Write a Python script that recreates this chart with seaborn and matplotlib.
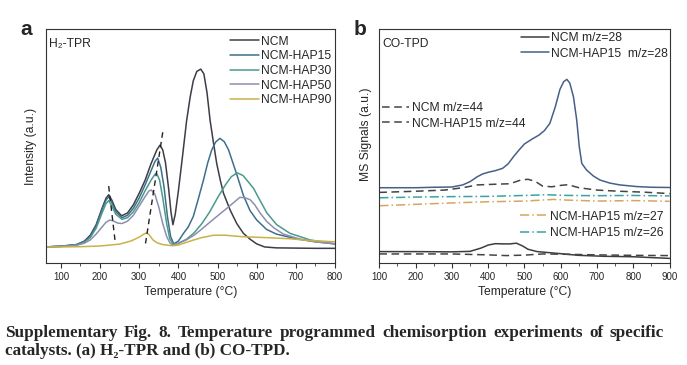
import matplotlib
matplotlib.use("Agg")
import matplotlib.pyplot as plt
import seaborn as sns
from matplotlib.ticker import MultipleLocator

# ---- panel a: H2-TPR (intensity as % of axis height) ----
ncm_t = [60, 100, 140, 160, 175, 190, 205, 215, 222, 230, 240, 255, 270, 285, 300, 315, 330, 345, 353, 360,
         367, 375, 381, 386, 392, 400, 410, 421, 430, 438, 447, 457, 465, 473, 481, 490, 498, 507, 515, 532,
         549, 566, 583, 600, 620, 650, 700, 750, 800]
ncm_i = [7.0, 7.3, 8.0, 9.5, 12.0, 16.5, 23.5, 27.8, 29.3, 27.0, 23.0, 20.3, 21.5, 25.0, 30.0, 35.5, 42.5, 48.5, 50.5, 48.5,
         43.0, 32.0, 22.0, 16.5, 21.0, 31.0, 45.0, 61.0, 71.0, 78.0, 82.0, 83.0, 81.0, 73.0, 61.0, 51.0, 42.5, 35.5, 30.0, 22.8,
         17.0, 12.8, 10.3, 8.3, 7.0, 6.6, 6.5, 6.4, 6.4]

hap15_t = [60, 100, 140, 160, 175, 190, 205, 215, 222, 230, 240, 256, 270, 285, 300, 315, 330, 340, 347, 355,
           363, 372, 380, 388, 400, 413, 425, 438, 450, 464, 475, 485, 495, 506, 517, 528, 549, 566, 583, 600,
           625, 650, 700, 750, 800]
hap15_i = [7.0, 7.3, 8.0, 9.3, 11.5, 16.0, 23.0, 27.0, 28.5, 26.0, 22.0, 19.5, 20.5, 23.5, 28.0, 33.5, 39.5, 43.5, 45.0, 41.0,
           33.0, 20.0, 11.5, 8.3, 9.5, 12.8, 15.5, 20.0, 27.0, 35.6, 43.0, 48.4, 51.8, 53.4, 52.0, 48.5, 38.0, 29.0, 22.5, 18.5,
           14.5, 12.5, 10.5, 9.2, 8.3]

hap30_t = [60, 100, 140, 160, 175, 190, 205, 215, 222, 230, 240, 256, 270, 285, 300, 315, 330, 340, 345, 352,
           360, 370, 378, 387, 400, 420, 440, 460, 480, 500, 520, 535, 550, 565, 580, 592, 608, 626, 651, 685,
           736, 800]
hap30_i = [7.0, 7.2, 7.8, 9.0, 11.0, 15.0, 21.5, 25.5, 26.8, 24.5, 21.0, 18.8, 19.5, 22.0, 26.0, 31.0, 35.5, 38.0, 38.3, 35.5,
           28.0, 17.0, 10.5, 8.0, 8.6, 10.2, 13.0, 17.0, 22.0, 28.0, 33.5, 37.0, 38.7, 37.5, 34.5, 32.0, 27.0, 21.5, 16.5, 12.8,
           10.0, 8.3]

hap50_t = [60, 100, 140, 160, 175, 190, 205, 215, 225, 235, 245, 256, 270, 285, 300, 315, 325, 331, 340, 350,
           360, 370, 378, 385, 400, 420, 440, 455, 475, 498, 520, 540, 557, 570, 583, 595, 609, 626, 645, 668,
           711, 750, 800]
hap50_i = [7.0, 7.2, 7.7, 8.6, 10.0, 12.5, 15.5, 17.5, 18.5, 18.0, 17.2, 17.0, 18.0, 20.5, 24.5, 28.5, 31.0, 31.3, 29.5, 24.0,
           17.0, 11.5, 8.8, 7.8, 8.5, 10.0, 12.0, 14.0, 16.8, 20.0, 23.0, 25.8, 28.2, 28.0, 27.2, 25.0, 21.4, 17.8, 15.0, 12.5,
           10.3, 9.2, 8.3]

hap90_t = [60, 100, 150, 200, 250, 280, 300, 310, 318, 325, 335, 345, 360, 385, 400, 430, 460, 490, 520, 560,
           620, 685, 730, 800]
hap90_i = [7.0, 7.0, 7.1, 7.4, 8.2, 9.6, 11.2, 12.3, 13.0, 12.3, 10.0, 8.8, 8.0, 7.5, 7.8, 9.5, 11.0, 12.0, 12.0, 11.4,
           11.0, 10.5, 9.8, 9.2]

# dashed guides through the low-temperature peaks
guide1_t = [222, 238]
guide1_i = [33.0, 10.0]
guide2_t = [360, 315]
guide2_i = [56.0, 7.4]

# ---- panel b: CO-TPD (signal as % of axis height) ----
hap28_t = [100, 150, 200, 250, 300, 330, 350, 370, 385, 400, 420, 440, 455, 470, 485, 500, 520, 540, 555, 570,
           585, 598, 608, 617, 625, 635, 644, 651, 658, 671, 690, 708, 735, 763, 809, 850, 900]
hap28_s = [32.3, 32.3, 32.3, 32.5, 32.6, 33.5, 34.9, 37.0, 38.2, 38.9, 39.6, 40.6, 42.5, 45.6, 48.4, 51.0, 53.0, 54.8, 56.7, 59.8,
           66.9, 74.4, 77.6, 78.6, 77.0, 71.2, 61.3, 50.0, 42.7, 39.9, 37.3, 35.6, 34.3, 33.5, 32.8, 32.5, 32.4]

ncm28_t = [100, 200, 300, 350, 380, 400, 420, 440, 460, 478, 495, 510, 535, 580, 650, 720, 800, 900]
ncm28_s = [5.0, 5.0, 4.9, 5.1, 6.5, 7.8, 8.4, 8.3, 8.3, 8.6, 7.4, 6.0, 5.0, 4.4, 3.4, 3.0, 2.8, 2.1]

ncm44_t = [100, 300, 400, 450, 500, 550, 600, 700, 800, 900]
ncm44_s = [4.0, 4.0, 3.6, 3.3, 3.5, 4.0, 3.9, 3.6, 3.4, 3.3]

hap44_t = [100, 200, 280, 330, 370, 420, 460, 490, 510, 530, 550, 575, 600, 620, 650, 700, 760, 830, 900]
hap44_s = [30.3, 30.8, 31.3, 32.3, 33.5, 33.8, 34.0, 35.6, 35.9, 35.0, 33.0, 32.7, 33.3, 33.6, 32.3, 31.3, 30.8, 30.4, 29.8]

hap27_t = [100, 200, 300, 400, 500, 580, 620, 700, 800, 900]
hap27_s = [24.6, 25.2, 25.8, 26.3, 26.6, 27.3, 27.0, 26.6, 26.8, 26.5]

hap26_t = [100, 200, 300, 400, 500, 560, 620, 700, 800, 900]
hap26_s = [28.0, 28.3, 28.5, 28.6, 29.0, 29.3, 29.0, 28.9, 29.0, 28.8]

caption1 = "Supplementary Fig. 8. Temperature programmed chemisorption experiments of specific"
caption2 = "catalysts. (a) H\u2082-TPR and (b) CO-TPD."

sns.set_style("white")
plt.rcParams["font.family"] = ["Liberation Sans", "DejaVu Sans"]

FS = 8.7
fig = plt.figure(figsize=(6.87, 3.65), dpi=100)
ax_a = fig.add_axes([0.0670, 0.2786, 0.4207, 0.6411])
ax_b = fig.add_axes([0.5521, 0.2786, 0.4231, 0.6411])


def line(ax, t, v, color, ls="-", lw=1.1, label=None):
    sns.lineplot(x=t, y=v, ax=ax, color=color, linestyle=ls, linewidth=lw,
                 sort=False, estimator=None)
    ln = ax.lines[-1]
    if label:
        ln.set_label(label)
    return ln


# panel a
a_series = [
    (ncm_t, ncm_i, "#3d3d47", "NCM"),
    (hap15_t, hap15_i, "#3f6f8c", "NCM-HAP15"),
    (hap30_t, hap30_i, "#4b9a8e", "NCM-HAP30"),
    (hap50_t, hap50_i, "#8d8fb0", "NCM-HAP50"),
    (hap90_t, hap90_i, "#c9b24a", "NCM-HAP90"),
]
a_handles = [line(ax_a, t, v, c, label=lab) for t, v, c, lab in a_series]
line(ax_a, guide1_t, guide1_i, "#222222", ls=(0, (4, 3)), lw=1.0)
line(ax_a, guide2_t, guide2_i, "#222222", ls=(0, (4, 3)), lw=1.0)

ax_a.set_xlim(62, 800)
ax_a.set_ylim(0, 100)
ax_a.set_ylabel("Intensity (a.u.)", fontsize=FS)
ax_a.yaxis.set_label_coords(-0.031, 0.5)
ax_a.text(0.01, 0.924, "H\u2082-TPR", transform=ax_a.transAxes, fontsize=FS, va="baseline")
ax_a.legend(handles=a_handles, loc="center right", bbox_to_anchor=(0.986, 0.822),
            frameon=False, fontsize=FS, handlelength=2.4, handletextpad=0.15,
            labelspacing=0.22, borderpad=0, borderaxespad=0)

# panel b
h_ncm28 = line(ax_b, ncm28_t, ncm28_s, "#3d3d3d", label="NCM m/z=28")
h_hap28 = line(ax_b, hap28_t, hap28_s, "#485f88", label="NCM-HAP15  m/z=28")
h_ncm44 = line(ax_b, ncm44_t, ncm44_s, "#444444", ls=(0, (5, 3)), label="NCM m/z=44")
h_hap44 = line(ax_b, hap44_t, hap44_s, "#444444", ls=(0, (5, 3)), label="NCM-HAP15 m/z=44")
h_hap27 = line(ax_b, hap27_t, hap27_s, "#d6a562", ls=(0, (6, 2, 1, 2)), label="NCM-HAP15 m/z=27")
h_hap26 = line(ax_b, hap26_t, hap26_s, "#3aa3a0", ls=(0, (6, 2, 1, 2)), label="NCM-HAP15 m/z=26")

ax_b.set_xlim(100, 901)
ax_b.set_ylim(0, 100)
ax_b.set_ylabel("MS Signals (a.u.)", fontsize=FS)
ax_b.yaxis.set_label_coords(-0.026, 0.55)
ax_b.text(0.012, 0.924, "CO-TPD", transform=ax_b.transAxes, fontsize=FS, va="baseline")

leg_kw = dict(frameon=False, fontsize=FS, handlelength=2.3, handletextpad=0.2,
              borderpad=0, borderaxespad=0)
leg1 = ax_b.legend(handles=[h_ncm28, h_hap28], loc="center right",
                   bbox_to_anchor=(0.993, 0.929), labelspacing=0.28, **leg_kw)
ax_b.add_artist(leg1)
leg2 = ax_b.legend(handles=[h_ncm44, h_hap44], loc="center left",
                   bbox_to_anchor=(0.008, 0.630), labelspacing=0.28, **leg_kw)
ax_b.add_artist(leg2)
ax_b.legend(handles=[h_hap27, h_hap26], loc="center right",
            bbox_to_anchor=(0.977, 0.164), labelspacing=0.4, **leg_kw)

for ax in (ax_a, ax_b):
    ax.xaxis.set_major_locator(MultipleLocator(100))
    ax.xaxis.set_minor_locator(MultipleLocator(50))
    ax.tick_params(axis="x", which="major", direction="out", length=3.5, width=0.8,
                   labelsize=7, pad=2.5, bottom=True, color="#333333")
    ax.tick_params(axis="x", which="minor", direction="out", length=2, width=0.6,
                   bottom=True, color="#333333")
    ax.tick_params(axis="y", left=False, labelleft=False)
    ax.set_xlabel("Temperature (\u00b0C)", fontsize=FS, labelpad=3)
    for sp in ax.spines.values():
        sp.set_visible(True)
        sp.set_color("#333333")
        sp.set_linewidth(0.8)

fig.text(0.038, 0.904, "a", fontsize=15, fontweight="bold", ha="center", va="baseline")
fig.text(0.524, 0.904, "b", fontsize=15, fontweight="bold", ha="center", va="baseline")

# caption, first line justified across the page width
cap_font = dict(family=["Liberation Serif", "DejaVu Serif"], fontsize=12.3, fontweight="bold")
x0, x1 = 5 / 687, 664 / 687
renderer = fig.canvas.get_renderer()
words = caption1.split()
texts = [fig.text(0, 0.077, w, va="baseline", **cap_font) for w in words]
widths = [t.get_window_extent(renderer).width / fig.bbox.width for t in texts]
gap = max((x1 - x0 - sum(widths)) / (len(words) - 1), 0.004)
x = x0
for t, w in zip(texts, widths):
    t.set_x(x)
    x += w + gap
fig.text(x0, 0.028, caption2, va="baseline", **cap_font)

fig.savefig("out.png", dpi=100)
plt.close(fig)
